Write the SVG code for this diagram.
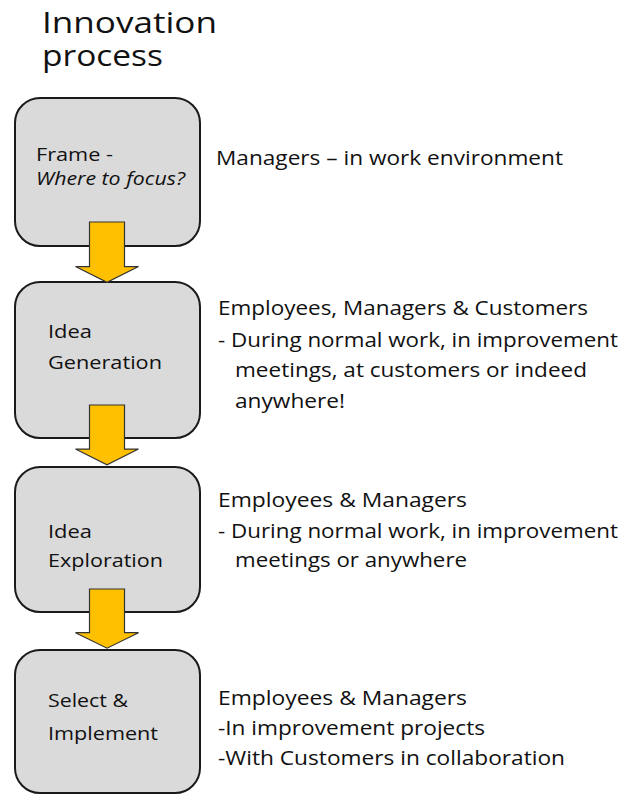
<svg xmlns="http://www.w3.org/2000/svg" width="632" height="795" viewBox="0 0 632 795">
  <style>
    .title { font-family: "Open Sans", "Noto Sans", sans-serif; font-size: 29px; fill: #111; }
    .box { fill: #dadada; stroke: #1a1a1a; stroke-width: 2; }
    .label { font-family: "Open Sans", "Noto Sans", sans-serif; font-size: 19px; fill: #111; }
    .note { font-family: "Open Sans", "Noto Sans", sans-serif; font-size: 20px; fill: #111; }
    .arrow { fill: #ffc000; stroke: #333; stroke-width: 1.2; stroke-linejoin: miter; }
  </style>
  <defs>
    <!-- block arrow pointing down; origin at the top centre of the shaft -->
    <path id="blockArrow" d="M -17.5 0 H 17.5 V 45 H 31.5 L 0 61 L -31.5 45 H -17.5 Z"/>
  </defs>

  <text class="title" x="42" y="33" textLength="175" lengthAdjust="spacingAndGlyphs">Innovation</text>
  <text class="title" x="42" y="66" textLength="121" lengthAdjust="spacingAndGlyphs">process</text>

  <g id="frame">
    <rect class="box" x="15" y="98" width="185" height="148" rx="25"/>
    <text class="label" x="36" y="161" textLength="77" lengthAdjust="spacingAndGlyphs">Frame -</text>
    <text class="label" x="36" y="185" font-style="italic" textLength="149" lengthAdjust="spacingAndGlyphs">Where to focus?</text>
  </g>

  <g id="idea-generation">
    <rect class="box" x="15" y="282" width="185" height="156" rx="25"/>
    <text class="label" x="48" y="338" textLength="44" lengthAdjust="spacingAndGlyphs">Idea</text>
    <text class="label" x="48" y="369" textLength="114" lengthAdjust="spacingAndGlyphs">Generation</text>
  </g>

  <g id="idea-exploration">
    <rect class="box" x="15" y="467" width="185" height="145" rx="25"/>
    <text class="label" x="48" y="538" textLength="44" lengthAdjust="spacingAndGlyphs">Idea</text>
    <text class="label" x="48" y="567" textLength="115" lengthAdjust="spacingAndGlyphs">Exploration</text>
  </g>

  <g id="select-implement">
    <rect class="box" x="15" y="650" width="185" height="143" rx="25"/>
    <text class="label" x="48" y="707" textLength="80" lengthAdjust="spacingAndGlyphs">Select &amp;</text>
    <text class="label" x="48" y="740" textLength="110" lengthAdjust="spacingAndGlyphs">Implement</text>
  </g>

  <g id="connectors">
    <use href="#blockArrow" class="arrow" transform="translate(107 222) scale(1 0.99)"/>
    <use href="#blockArrow" class="arrow" transform="translate(107 405) scale(1 0.98)"/>
    <use href="#blockArrow" class="arrow" transform="translate(107 589) scale(1 0.97)"/>
  </g>

  <g id="notes">
    <text class="note" x="216" y="165" textLength="347" lengthAdjust="spacingAndGlyphs">Managers – in work  environment</text>

    <text class="note" x="218" y="315" textLength="370" lengthAdjust="spacingAndGlyphs">Employees, Managers &amp; Customers</text>
    <text class="note" x="218" y="347" textLength="400" lengthAdjust="spacingAndGlyphs">- During normal work, in improvement</text>
    <text class="note" x="235" y="377" textLength="352" lengthAdjust="spacingAndGlyphs">meetings, at customers or indeed</text>
    <text class="note" x="235" y="408" textLength="110" lengthAdjust="spacingAndGlyphs">anywhere!</text>

    <text class="note" x="218" y="507" textLength="249" lengthAdjust="spacingAndGlyphs">Employees &amp; Managers</text>
    <text class="note" x="218" y="538" textLength="400" lengthAdjust="spacingAndGlyphs">- During normal work, in improvement</text>
    <text class="note" x="235" y="567" textLength="232" lengthAdjust="spacingAndGlyphs">meetings or anywhere</text>

    <text class="note" x="218" y="705" textLength="249" lengthAdjust="spacingAndGlyphs">Employees &amp; Managers</text>
    <text class="note" x="218" y="735" textLength="267" lengthAdjust="spacingAndGlyphs">-In improvement  projects</text>
    <text class="note" x="218" y="765" textLength="347" lengthAdjust="spacingAndGlyphs">-With Customers in collaboration</text>
  </g>
</svg>
